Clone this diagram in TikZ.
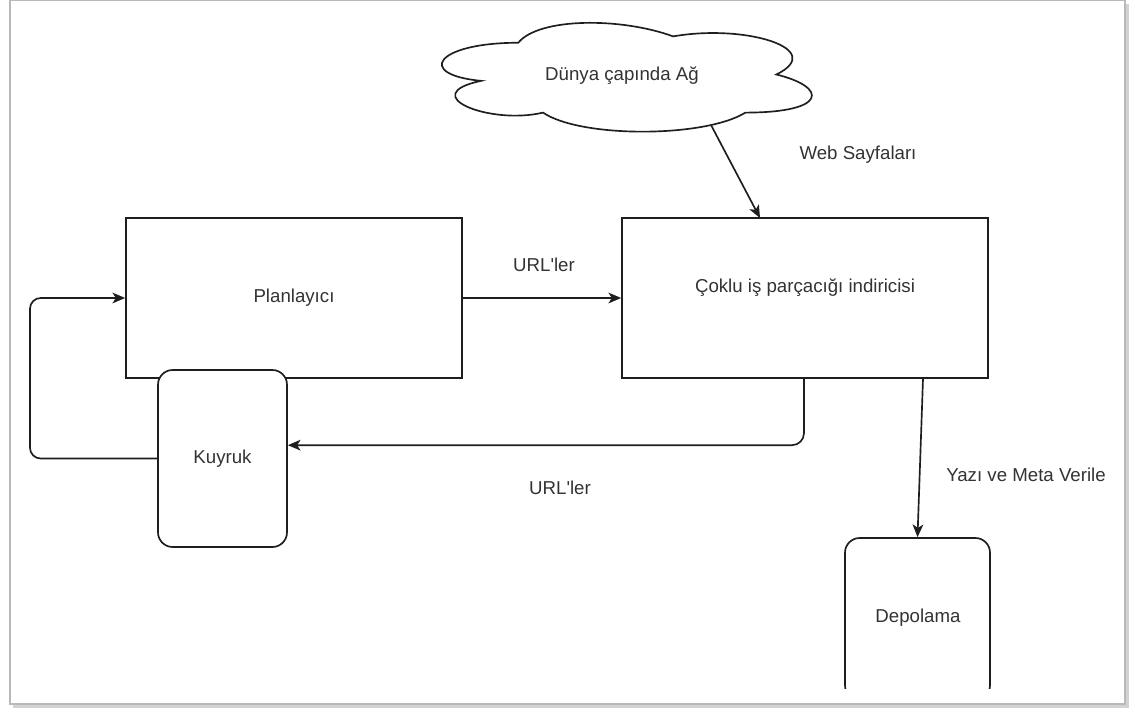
\documentclass[tikz,border=0pt]{standalone}
\usepackage{fontspec}
\newfontfamily\libsans{Liberation Sans}
\usetikzlibrary{arrows.meta}
\definecolor{txt}{HTML}{333333}
\definecolor{ln}{HTML}{1E1E1E}
\begin{document}
\begin{tikzpicture}[x=0.75pt,y=-0.75pt,
  font=\libsans\fontsize{14}{16}\selectfont,
  box/.style={draw=ln, line width=1.25pt, fill=white, inner sep=0pt, text=txt},
  rbox/.style={box, rounded corners=11pt},
  lbl/.style={text=txt, inner sep=0pt},
  arr/.style={draw=ln, line width=1.25pt, -{Stealth[length=9.5pt,width=8pt,inset=2.5pt]}}]
\useasboundingbox (0,0) rectangle (1135,711);
% screenshot frame with shadow
\fill[gray!35] (13,4) rectangle (1129,708);
\fill[white, draw=gray!55, line width=1pt] (10,0.5) rectangle (1125,704);

% cloud
\draw[draw=ln, line width=1.25pt, fill=white]
  (518.25,42.75) .. controls (435.65,42.75) and (415,74.5) .. (481.08,80.85)
  .. controls (415,94.82) and (489.34,125.3) .. (543.03,112.6)
  .. controls (580.2,138) and (704.1,138) .. (745.4,112.6)
  .. controls (828,112.6) and (828,87.2) .. (776.375,74.5)
  .. controls (828,49.1) and (745.4,23.7) .. (673.125,36.4)
  .. controls (621.5,17.35) and (538.9,17.35) .. (518.25,42.75) -- cycle;
\node[lbl] (www) at (622,76) {Dünya çapında Ağ};
\coordinate (wwwout) at (711,125);

% boxes
\node[box, minimum width=252pt, minimum height=120pt] (plan) at (294,298) {Planlayıcı};
\node[box, minimum width=274.5pt, minimum height=120pt] (cok) at (805,298) {};
\node[lbl] (coktxt) at (805,288) {Çoklu iş parçacığı indiricisi};
\coordinate (cokin) at (760,218);
\node[rbox, minimum width=96.75pt, minimum height=132.75pt] (kuy) at (222.5,458.5) {Kuyruk};

\begin{scope}
  \clip (0,0) rectangle (1135,688);
  \node[rbox, minimum width=108.75pt, minimum height=121.5pt] (dep) at (917.5,619) {};
\end{scope}
\node[lbl] (deptxt) at (918,618) {Depolama};

% connectors
\draw[arr] (wwwout) -- (cokin);
\draw[arr] (plan.east) -- (cok.west);
\draw[arr, rounded corners=9pt] ([xshift=-0.75pt]cok.south) |- ([yshift=10pt]kuy.east);
\draw[arr] ([xshift=88.5pt]cok.south) -- (dep.north);
\draw[arr, rounded corners=8pt] (kuy.west) -- (30,458.5) |- (plan.west);

% labels
\node[lbl] (l1) at (544,265) {URL'ler};
\node[lbl] (l2) at (560,488) {URL'ler};
\node[lbl] (l3) at (858,155) {Web Sayfaları};
\node[lbl] (l4) at (1026,475) {Yazı ve Meta Verile};
\end{tikzpicture}
\end{document}
